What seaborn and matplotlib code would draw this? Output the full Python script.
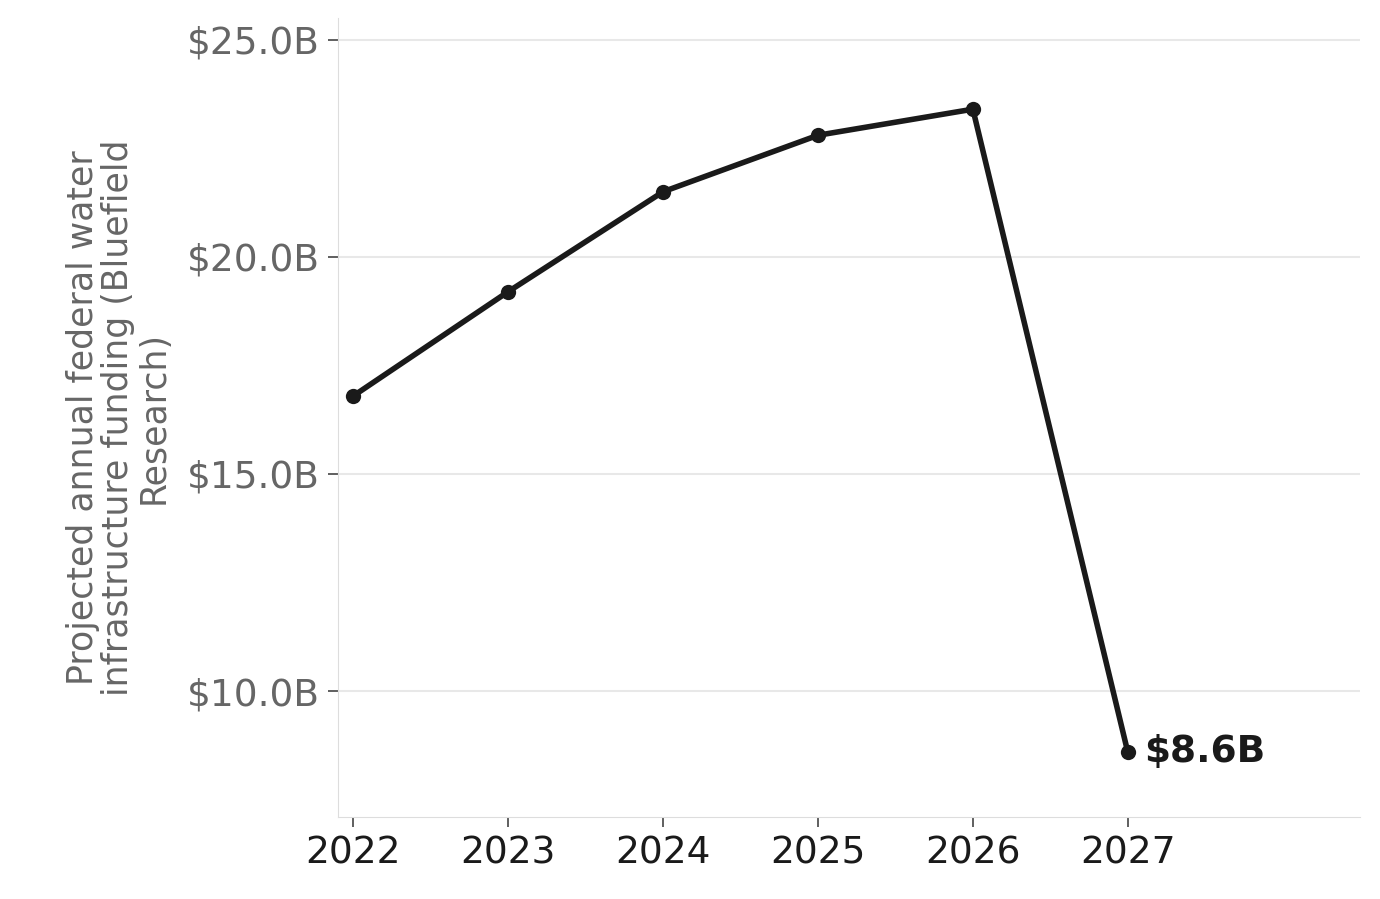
import matplotlib
matplotlib.use("Agg")
import matplotlib.pyplot as plt
import seaborn as sns
import pandas as pd

years = [2022, 2023, 2024, 2025, 2026, 2027]
funding = [16.8, 19.2, 21.5, 22.8, 23.4, 8.6]
yticks = [10, 15, 20, 25]

sns.set_style("white")
plt.rcParams['font.family'] = ['DejaVu Sans']
df = pd.DataFrame({"year": years, "funding": funding})

fig = plt.figure(figsize=(13.8, 8.99), dpi=100)
ax = fig.add_axes([338/1380, 1-817/899, (1360-338)/1380, (817-18)/899])
sns.lineplot(data=df, x="year", y="funding", ax=ax, color="#1a1a1a", lw=4,
             marker="o", markersize=11, markeredgewidth=0)
ax.set_xlim(2021.9, 2028.5)
ax.set_ylim(7.1, 25.5)
ax.set_xticks(years)
ax.set_xticklabels([str(y) for y in years], fontsize=27, color="#1a1a1a")
ax.set_yticks(yticks)
ax.set_yticklabels([f"${v:.1f}B" for v in yticks], fontsize=27, color="#666666")
ax.grid(axis="y", color="#e8e8e8", lw=1.5)
ax.set_axisbelow(True)
for s in ["top", "right"]:
    ax.spines[s].set_visible(False)
for s in ["left", "bottom"]:
    ax.spines[s].set_color("#dddddd")
ax.tick_params(axis="both", bottom=True, left=True, length=7, color="#444444", width=1.2, pad=6)
ax.set_xlabel("")
ax.set_ylabel("Projected annual federal water\ninfrastructure funding (Bluefield\nResearch)",
              fontsize=25, color="#666666", labelpad=12, linespacing=1.05)
ax.annotate(f"${funding[-1]}B", (years[-1], funding[-1]), xytext=(12, 0),
            textcoords="offset points", va="center", ha="left",
            fontsize=27, fontweight="bold", color="#1a1a1a")
fig.savefig("out.png", dpi=100)
